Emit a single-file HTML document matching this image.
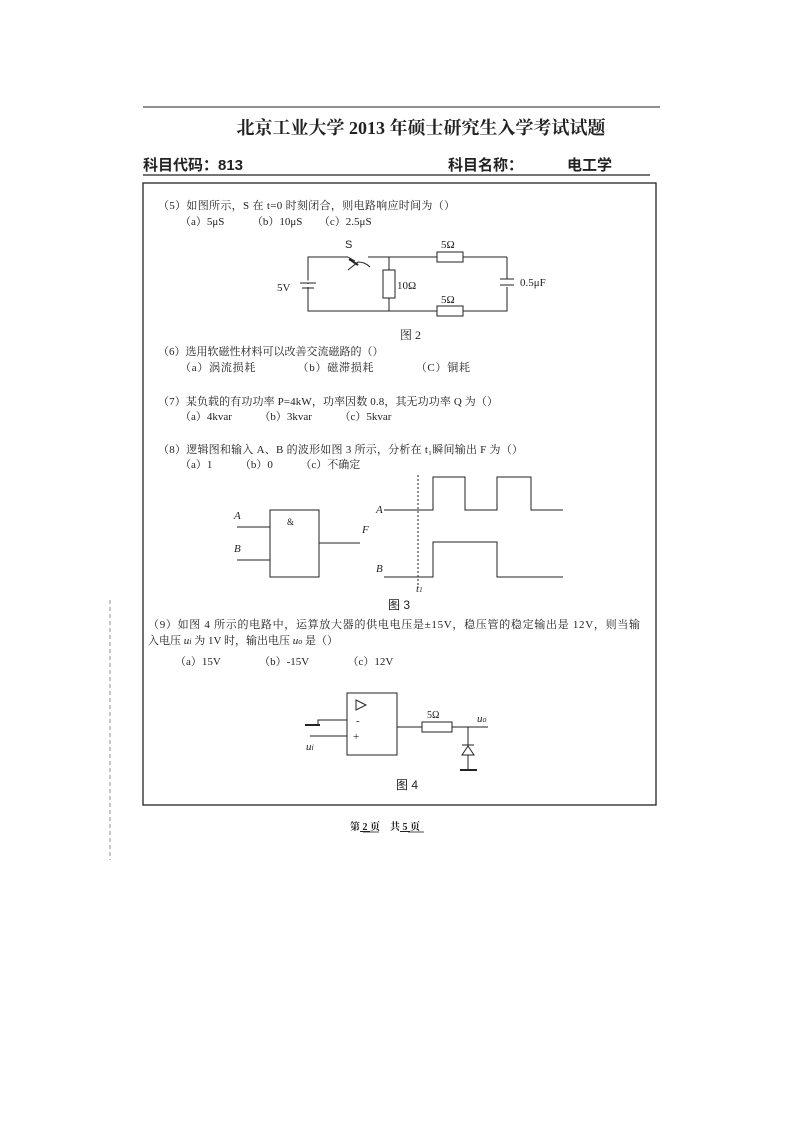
<!DOCTYPE html>
<html><head><meta charset="utf-8"><style>
html,body{margin:0;padding:0;background:#fff;}
svg{display:block;}
text{font-family:"Liberation Serif","Noto Serif CJK SC","Noto Sans CJK SC",serif;fill:#222;}
.s{font-family:"Liberation Sans","Noto Sans CJK SC",sans-serif;}
</style></head><body>
<svg width="793" height="1122" viewBox="0 0 793 1122" xmlns="http://www.w3.org/2000/svg">
<g stroke="#222" fill="none" stroke-width="1.2">
<line x1="143" y1="107" x2="660" y2="107" stroke-width="1"/>
<line x1="143" y1="175" x2="650" y2="175"/>
<rect x="143" y="183" width="513" height="622" stroke-width="1.3"/>
<line x1="110" y1="600" x2="110" y2="860" stroke-dasharray="4 3" stroke-width="0.8" stroke="#777"/>
</g>
<text x="421" y="134" font-size="18" font-weight="bold" text-anchor="middle">北京工业大学 2013 年硕士研究生入学考试试题</text>
<text x="143" y="170" font-size="15" font-weight="bold" class="s">科目代码：813</text>
<text x="448" y="170" font-size="15" font-weight="bold" class="s">科目名称：</text>
<text x="567" y="170" font-size="15" font-weight="bold" class="s">电工学</text>

<g font-size="11">
<text x="158" y="209" textLength="297" lengthAdjust="spacing">（5）如图所示，S 在 t=0 时刻闭合，则电路响应时间为（）</text>
<text x="180" y="225">（a）5μS　　　（b）10μS　　（c）2.5μS</text>
<text x="158" y="355">（6）选用软磁性材料可以改善交流磁路的（）</text>
<text x="180" y="371" textLength="290" lengthAdjust="spacing">（a）涡流损耗　　　　（b）磁滞损耗　　　　（C）铜耗</text>
<text x="158" y="405" textLength="340" lengthAdjust="spacing">（7）某负载的有功功率 P=4kW，功率因数 0.8，其无功功率 Q 为（）</text>
<text x="180" y="420">（a）4kvar　　　（b）3kvar　　　（c）5kvar</text>
<text x="158" y="453" textLength="365" lengthAdjust="spacing">（8）逻辑图和输入 A、B 的波形如图 3 所示，分析在 t₁瞬间输出 F 为（）</text>
<text x="180" y="468">（a）1　　　（b）0　　　（c）不确定</text>
<text x="148" y="628" textLength="492" lengthAdjust="spacing">（9）如图 4 所示的电路中，运算放大器的供电电压是±15V，稳压管的稳定输出是 12V，则当输</text>
<text x="148" y="644">入电压 <tspan font-style="italic">u</tspan><tspan font-size="8" font-style="italic">i</tspan> 为 1V 时，输出电压 <tspan font-style="italic">u</tspan><tspan font-size="8" font-style="italic">o</tspan> 是（）</text>
<text x="175" y="665">（a）15V　　　　（b）-15V　　　　（c）12V</text>
</g>

<g stroke="#222" fill="none" stroke-width="1">
<polyline points="348,257 308,257 308,311 507,311 507,287"/>
<line x1="507" y1="279" x2="507" y2="257"/>
<line x1="368" y1="257" x2="437" y2="257"/>
<line x1="463" y1="257" x2="507" y2="257"/>
<line x1="348" y1="257" x2="355" y2="261"/>
<path d="M348,270 L358,262 Q365,262 370,267"/>
<line x1="349" y1="259" x2="358" y2="265" stroke-width="2"/>
<rect x="437" y="252" width="26" height="10" fill="#fff"/>
<rect x="437" y="306" width="26" height="10" fill="#fff"/>
<line x1="389" y1="257" x2="389" y2="311"/>
<rect x="383" y="270" width="12" height="28" fill="#fff"/>
<line x1="500" y1="279" x2="514" y2="279"/>
<line x1="500" y1="285" x2="514" y2="285"/>
<line x1="308" y1="257" x2="308" y2="282"/>
<line x1="300" y1="282" x2="316" y2="282" stroke="#fff" stroke-width="3"/>
<line x1="300" y1="283" x2="316" y2="283"/>
<line x1="302" y1="288" x2="314" y2="288"/>
</g>
<line x1="308" y1="284" x2="308" y2="287" stroke="#fff" stroke-width="3"/>
<g font-size="11" class="s">
<text x="345" y="248" class="s">S</text>
<text x="441" y="248">5Ω</text>
<text x="441" y="303">5Ω</text>
<text x="397" y="289">10Ω</text>
<text x="277" y="291">5V</text>
<text x="520" y="286">0.5μF</text>
<text x="400" y="339" font-size="12">图 2</text>
</g>

<g stroke="#222" fill="none" stroke-width="1">
<rect x="270" y="510" width="49" height="67"/>
<line x1="237" y1="527" x2="270" y2="527"/>
<line x1="237" y1="560" x2="270" y2="560"/>
<line x1="319" y1="543" x2="360" y2="543"/>
<polyline points="384,510 433,510 433,477 465,477 465,510 497,510 497,477 531,477 531,510 563,510"/>
<polyline points="384,577 433,577 433,542 497,542 497,577 563,577"/>
<line x1="418" y1="475" x2="418" y2="585" stroke-dasharray="2 2"/>
</g>
<g font-size="11" font-style="italic">
<text x="234" y="519">A</text>
<text x="234" y="552">B</text>
<text x="362" y="533">F</text>
<text x="287" y="525" font-style="normal" font-size="9">&amp;</text>
<text x="376" y="513">A</text>
<text x="376" y="572">B</text>
<text x="416" y="592">t<tspan font-size="7">1</tspan></text>
</g>
<text x="388" y="609" font-size="12" class="s">图 3</text>

<g stroke="#222" fill="none" stroke-width="1">
<rect x="347" y="693" width="50" height="62"/>
<path d="M356,700 L366,705 L356,710 Z"/>
<polyline points="347,720 318,720 318,725"/>
<line x1="305" y1="725" x2="320" y2="725" stroke-width="2"/>
<line x1="310" y1="736" x2="347" y2="736"/>
<line x1="397" y1="727" x2="422" y2="727"/>
<rect x="422" y="722" width="30" height="10"/>
<line x1="452" y1="727" x2="488" y2="727"/>
<line x1="468" y1="727" x2="468" y2="770"/>
<path d="M462,755 L474,755 L468,746 Z" fill="#fff"/>
<line x1="462" y1="745" x2="474" y2="745"/>
<line x1="460" y1="770" x2="477" y2="770" stroke-width="2"/>
</g>
<text x="356" y="724" font-size="11">-</text>
<text x="353" y="740" font-size="11">+</text>
<text x="427" y="718" font-size="10">5Ω</text>
<text x="477" y="722" font-size="11" font-style="italic">u<tspan font-size="8">o</tspan></text>
<text x="306" y="750" font-size="11" font-style="italic">u<tspan font-size="8">i</tspan></text>
<text x="396" y="789" font-size="12" class="s">图 4</text>

<text x="350" y="830" font-size="10" font-weight="bold">第<tspan text-decoration="underline">  2  </tspan>页　共<tspan text-decoration="underline">  5  </tspan>页</text>
<line x1="363" y1="832" x2="379" y2="832" stroke="#222" stroke-width="0.8"/>
<line x1="408" y1="832" x2="424" y2="832" stroke="#222" stroke-width="0.8"/>
</svg>
</body></html>
